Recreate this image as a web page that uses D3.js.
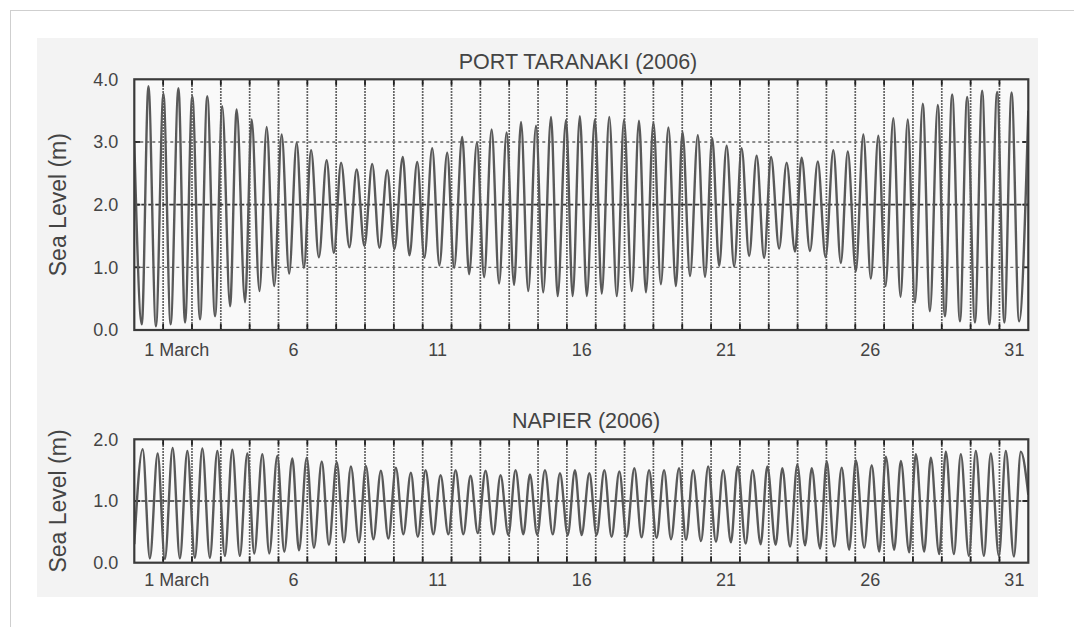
<!DOCTYPE html>
<html>
<head>
<meta charset="utf-8">
<script src="https://cdn.jsdelivr.net/npm/d3@7"></script>
<style>
  body { margin: 0; background: #fff; }
  svg { display: block; font-family: "Liberation Sans", Arial, Helvetica, sans-serif; }
  .axis text { font-size: 18px; fill: #444; }
  .panel-title { font-size: 21.5px; fill: #444; }
  .y-title { font-size: 23px; fill: #444; }
</style>
</head>
<body>
<svg id="chart" width="1074" height="627"></svg>
<script>

// turning points of the tide, time in days after 1 March 00:00
const taranakiTime = [
  0, 0.26, 0.49, 0.75, 1.01, 1.26, 1.53, 1.76, 2.01, 2.28, 2.53, 2.80, 3.05, 3.32, 3.55, 3.84,
  4.07, 4.34, 4.59, 4.85, 5.11, 5.37, 5.63, 5.88, 6.13, 6.40, 6.67, 6.92, 7.17, 7.46, 7.71, 7.98,
  8.25, 8.50, 8.77, 9.02, 9.31, 9.54, 9.81, 10.06, 10.33, 10.58, 10.85, 11.09, 11.37, 11.61, 11.88,
  12.13, 12.39, 12.65, 12.91, 13.17, 13.41, 13.66, 13.93, 14.18, 14.45, 14.68, 14.97, 15.20, 15.45,
  15.69, 15.97, 16.21, 16.47, 16.73, 16.98, 17.25, 17.50, 17.74, 18.00, 18.26, 18.52, 18.78, 19.01,
  19.27, 19.54, 19.79, 20.04, 20.28, 20.54, 20.80, 21.06, 21.32, 21.58, 21.84, 22.08, 22.36, 22.62,
  22.91, 23.14, 23.43, 23.70, 23.97, 24.24, 24.50, 24.74, 25.02, 25.28, 25.54, 25.80, 26.05, 26.32,
  26.57, 26.82, 27.07, 27.34, 27.59, 27.86, 28.11, 28.36, 28.63, 28.88, 29.15, 29.40, 29.65, 29.92,
  30.17, 30.42, 30.68, 31
];
const taranakiLevel = [
  3.0, 0.09, 3.89, 0.06, 3.77, 0.09, 3.86, 0.12, 3.73, 0.17, 3.73, 0.22, 3.57, 0.38, 3.52, 0.44,
  3.36, 0.62, 3.24, 0.70, 3.12, 0.90, 2.99, 0.99, 2.87, 1.16, 2.71, 1.23, 2.67, 1.32, 2.56, 1.34,
  2.65, 1.31, 2.55, 1.29, 2.76, 1.19, 2.68, 1.15, 2.90, 1.03, 2.83, 0.99, 3.08, 0.89, 2.99,
  0.84, 3.20, 0.74, 3.15, 0.72, 3.32, 0.62, 3.26, 0.60, 3.40, 0.54, 3.35, 0.54, 3.41,
  0.54, 3.36, 0.58, 3.40, 0.54, 3.35, 0.62, 3.34, 0.60, 3.31, 0.73, 3.23, 0.70, 3.16,
  0.86, 3.11, 0.85, 3.06, 1.02, 2.94, 1.01, 2.90, 1.18, 2.78, 1.15, 2.76, 1.30, 2.67,
  1.25, 2.75, 1.26, 2.69, 1.16, 2.87, 1.07, 2.85, 0.94, 3.12, 0.82, 3.10, 0.70, 3.38,
  0.53, 3.36, 0.44, 3.61, 0.30, 3.59, 0.22, 3.76, 0.14, 3.72, 0.12, 3.82, 0.09, 3.80,
  0.12, 3.79, 0.14, 3.5
];

const napierTime = [
  0, 0.29, 0.54, 0.81, 1.06, 1.33, 1.58, 1.84, 2.10, 2.36, 2.62, 2.88, 3.14, 3.40, 3.66, 3.92,
  4.16, 4.44, 4.68, 4.96, 5.20, 5.48, 5.71, 5.98, 6.23, 6.50, 6.75, 7.02, 7.27, 7.51, 7.79,
  8.03, 8.29, 8.55, 8.81, 9.07, 9.33, 9.59, 9.83, 10.10, 10.37, 10.62, 10.89, 11.14, 11.41,
  11.66, 11.91, 12.18, 12.45, 12.70, 12.97, 13.22, 13.49, 13.72, 13.97, 14.24, 14.51, 14.76,
  15.03, 15.28, 15.51, 15.78, 16.03, 16.30, 16.55, 16.82, 17.07, 17.34, 17.59, 17.85, 18.11,
  18.37, 18.61, 18.89, 19.13, 19.38, 19.65, 19.90, 20.17, 20.42, 20.69, 20.92, 21.20, 21.44,
  21.72, 21.95, 22.24, 22.47, 22.74, 22.99, 23.26, 23.49, 23.78, 24.01, 24.27, 24.53, 24.79,
  25.02, 25.31, 25.57, 25.83, 26.06, 26.35, 26.58, 26.87, 27.10, 27.39, 27.62, 27.91, 28.14,
  28.42, 28.66, 28.94, 29.18, 29.46, 29.70, 29.98, 30.22, 30.50, 30.74, 31
];
const napierLevel = [
  0.3, 1.84, 0.07, 1.77, 0.06, 1.86, 0.07, 1.81, 0.08, 1.85, 0.08, 1.81, 0.11, 1.83, 0.11, 1.77,
  0.15, 1.76, 0.15, 1.73, 0.18, 1.69, 0.20, 1.70, 0.24, 1.64, 0.29, 1.63, 0.33, 1.56, 0.33,
  1.57, 0.38, 1.49, 0.39, 1.54, 0.46, 1.46, 0.42, 1.50, 0.46, 1.42, 0.46, 1.50, 0.46,
  1.41, 0.48, 1.49, 0.46, 1.42, 0.45, 1.50, 0.46, 1.43, 0.45, 1.50, 0.46, 1.45,
  0.45, 1.50, 0.45, 1.45, 0.45, 1.50, 0.42, 1.48, 0.42, 1.53, 0.41, 1.50, 0.40,
  1.50, 0.38, 1.53, 0.37, 1.50, 0.35, 1.56, 0.34, 1.50, 0.33, 1.56, 0.31, 1.50,
  0.30, 1.56, 0.29, 1.53, 0.26, 1.59, 0.28, 1.53, 0.23, 1.64, 0.26, 1.54, 0.21,
  1.66, 0.24, 1.58, 0.18, 1.72, 0.21, 1.65, 0.17, 1.76, 0.18, 1.70, 0.14, 1.80,
  0.14, 1.76, 0.11, 1.81, 0.11, 1.77, 0.11, 1.81, 0.10, 1.80, 1.1
];

const dayLabels = [1, 6, 11, 16, 21, 26, 31];
const taranakiTicks = [0, 1, 2, 3, 4];
const napierTicks = [0, 1, 2];

const svg = d3.select('#chart');

// page frame and grey backing
svg.append('rect')
  .attr('x', 10.5).attr('y', 10.5)
  .attr('width', 1100).attr('height', 650)
  .attr('fill', '#fff')
  .attr('stroke', '#cfcfcf');

svg.append('rect')
  .attr('x', 37).attr('y', 38)
  .attr('width', 1001).attr('height', 559)
  .attr('fill', '#f3f3f3');

function drawPanel(p) {

  const x = d3.scaleLinear().domain([0, 31]).range([p.left, p.right]);
  const y = d3.scaleLinear().domain([0, p.yMax]).range([p.bottom, p.top]);

  const g = svg.append('g');

  g.append('rect')
    .attr('x', p.left).attr('y', p.top)
    .attr('width', p.right - p.left).attr('height', p.bottom - p.top)
    .attr('fill', '#f9f9f9');

  // midnight grid lines
  const midnights = x.ticks(31).filter((d) => d > 0 && d < 31);

  g.selectAll('line.vgrid')
    .data(midnights)
    .enter()
    .append('line')
    .attr('class', 'vgrid')
    .attr('x1', (d) => x(d)).attr('x2', (d) => x(d))
    .attr('y1', p.top).attr('y2', p.bottom)
    .attr('stroke', '#333')
    .attr('stroke-width', 1.7)
    .attr('stroke-dasharray', '1.5,1.5');

  const levels = y.ticks(p.yMax).filter((d) => d > 0 && d < p.yMax);

  g.selectAll('line.hgrid')
    .data(levels)
    .enter()
    .append('line')
    .attr('class', 'hgrid')
    .attr('x1', p.left).attr('x2', p.right)
    .attr('y1', (d) => y(d)).attr('y2', (d) => y(d))
    .attr('stroke', (d) => d === p.yMax / 2 ? '#333' : '#666')
    .attr('stroke-width', (d) => d === p.yMax / 2 ? 1.7 : 1.4)
    .attr('stroke-dasharray', (d) => d === p.yMax / 2 ? '5,2' : '3,3');

  // inner ticks on all four sides
  const tickLen = 6;
  midnights.forEach((d) => {
    g.append('line')
      .attr('x1', x(d)).attr('x2', x(d))
      .attr('y1', p.bottom).attr('y2', p.bottom - tickLen)
      .attr('stroke', '#222').attr('stroke-width', 1.8);
    g.append('line')
      .attr('x1', x(d)).attr('x2', x(d))
      .attr('y1', p.top).attr('y2', p.top + tickLen)
      .attr('stroke', '#222').attr('stroke-width', 1.8);
  });
  levels.forEach((d) => {
    g.append('line')
      .attr('x1', p.left).attr('x2', p.left + tickLen)
      .attr('y1', y(d)).attr('y2', y(d))
      .attr('stroke', '#222').attr('stroke-width', 1.8);
    g.append('line')
      .attr('x1', p.right).attr('x2', p.right - tickLen)
      .attr('y1', y(d)).attr('y2', y(d))
      .attr('stroke', '#222').attr('stroke-width', 1.8);
  });

  // sea level trace
  const points = p.time.map((t, i) => ({ t: t, v: p.level[i] }));

  g.append('clipPath')
    .attr('id', 'clip-' + p.id)
    .append('rect')
    .attr('x', p.left).attr('y', p.top)
    .attr('width', p.right - p.left).attr('height', p.bottom - p.top);

  const line = d3.line()
    .x((d) => x(d.t))
    .y((d) => y(d.v))
    .curve(d3.curveMonotoneX);

  g.append('path')
    .datum(points)
    .attr('clip-path', 'url(#clip-' + p.id + ')')
    .attr('d', line)
    .attr('fill', 'none')
    .attr('stroke', '#595959')
    .attr('stroke-width', 2.4);

  // frame
  g.append('rect')
    .attr('x', p.left).attr('y', p.top)
    .attr('width', p.right - p.left).attr('height', p.bottom - p.top)
    .attr('fill', 'none')
    .attr('stroke', '#3a3a3a')
    .attr('stroke-width', 2.2);

  // axes: labels only, day numbers sit at noon
  const xAxis = d3.axisBottom(x)
    .tickValues(dayLabels.map((d) => d - 0.5))
    .tickSize(0)
    .tickPadding(p.xPad)
    .tickFormat((d) => d + 0.5);

  const xg = g.append('g')
    .attr('class', 'axis')
    .attr('transform', `translate(0, ${p.bottom})`)
    .call(xAxis);
  xg.select('.domain').remove();
  xg.selectAll('.tick text')
    .filter((d) => d + 0.5 === 1)
    .attr('text-anchor', 'start')
    .attr('dx', -5)
    .text('1 March');

  const yAxis = d3.axisLeft(y)
    .tickValues(p.yTicks)
    .tickSize(0)
    .tickPadding(16)
    .tickFormat(d3.format('.1f'));

  const yg = g.append('g')
    .attr('class', 'axis')
    .attr('transform', `translate(${p.left}, 0)`)
    .call(yAxis);
  yg.select('.domain').remove();

  g.append('text')
    .attr('class', 'panel-title')
    .attr('x', p.titleX)
    .attr('y', p.titleY)
    .attr('text-anchor', 'middle')
    .text(p.title);

  g.append('text')
    .attr('class', 'y-title')
    .attr('transform', `translate(66, ${(p.top + p.bottom) / 2}) rotate(-90)`)
    .attr('text-anchor', 'middle')
    .text('Sea Level (m)');
}

drawPanel({
  id: 'taranaki',
  title: 'PORT TARANAKI (2006)',
  time: taranakiTime,
  level: taranakiLevel,
  yMax: 4,
  yTicks: taranakiTicks,
  left: 134.3, right: 1028.3, top: 79.3, bottom: 330,
  xPad: 13.5,
  titleX: 578, titleY: 69
});

drawPanel({
  id: 'napier',
  title: 'NAPIER (2006)',
  time: napierTime,
  level: napierLevel,
  yMax: 2,
  yTicks: napierTicks,
  left: 134.3, right: 1028.3, top: 439.3, bottom: 562.7,
  xPad: 11,
  titleX: 586, titleY: 428
});

</script>
</body>
</html>
